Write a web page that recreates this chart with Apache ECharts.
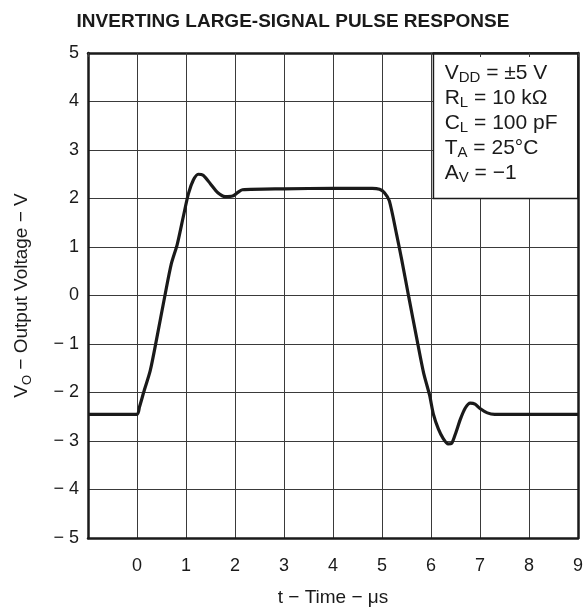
<!DOCTYPE html>
<html>
<head>
<meta charset="utf-8">
<script src="https://cdn.jsdelivr.net/npm/echarts@6/dist/echarts.min.js"></script>
<style>
  html, body { margin: 0; padding: 0; background: #fff; }
  #chart { width: 586px; height: 612px; }
</style>
</head>
<body>
<div id="chart"></div>
<script>
// time axis (µs) and output voltage (V)
const timeUs = [-1, 0, 0.05, 0.15, 0.27, 0.4, 0.57, 0.7, 0.82, 0.95, 1.05, 1.15, 1.25, 1.35, 1.5, 1.65, 1.8, 1.95, 2.05, 2.15,
  3, 4, 4.8, 4.95, 5.05, 5.15, 5.3, 5.4, 5.55, 5.71, 5.85, 5.97, 6.05, 6.15, 6.25, 6.35, 6.42, 6.5, 6.6, 6.7, 6.8, 6.9, 7.0, 7.15, 7.3, 9];
const voltage = [-2.45, -2.45, -2.3, -1.95, -1.55, -0.9, 0, 0.65, 1.05, 1.65, 2.1, 2.38, 2.5, 2.48, 2.3, 2.12, 2.04, 2.05, 2.12, 2.18,
  2.2, 2.21, 2.21, 2.19, 2.12, 1.95, 1.25, 0.75, -0.05, -0.89, -1.6, -2.05, -2.45, -2.75, -2.95, -3.06, -3.05, -2.85, -2.55, -2.32, -2.22, -2.24, -2.33, -2.42, -2.45, -2.45];

// test conditions box (corner values on the axes)
const boxFrom = [6.05, 2];
const boxTo = [9, 5];
const conditions = [
  '{n|V}{s|DD}{n| = ±5 V}',
  '{n|R}{s|L}{n| = 10 kΩ}',
  '{n|C}{s|L}{n| = 100 pF}',
  '{n|T}{s|A}{n| = 25°C}',
  '{n|A}{s|V}{n| = −1}'
];

const FONT = '"Liberation Sans", Arial, sans-serif';
const INK = '#1a1a1a';

let myChart = echarts.init(document.getElementById('chart'));

let points = timeUs.map((t, i) => [t, voltage[i]]);

let option = {
  animation: false,
  backgroundColor: '#fff',
  title: {
    text: 'INVERTING LARGE-SIGNAL PULSE RESPONSE',
    left: 'center',
    top: 7,
    textStyle: { fontFamily: FONT, fontSize: 19, fontWeight: 'bold', color: INK },
  },
  grid: { left: 88, right: 8, top: 53, bottom: 72, containLabel: false },
  xAxis: [{
    type: 'value',
    min: -1,
    max: 9,
    interval: 1,
    name: 't − Time − μs',
    nameLocation: 'middle',
    nameGap: 50,
    nameTextStyle: { fontFamily: FONT, fontSize: 19, color: INK },
    axisLine: { show: true, onZero: false, lineStyle: { color: INK, width: 2.5 } },
    axisTick: { show: false },
    axisLabel: {
      margin: 19,
      fontFamily: FONT, fontSize: 18, color: INK,
      formatter: (v) => (v === -1 ? '' : String(v)),
    },
    splitLine: { show: true, lineStyle: { color: '#3a3a3a', width: 1 } },
  }, {
    // top frame edge, drawn over the conditions box
    type: 'value',
    position: 'top',
    min: -1,
    max: 9,
    interval: 1,
    z: 5,
    axisLine: { show: true, onZero: false, lineStyle: { color: INK, width: 2.5 } },
    axisTick: { show: true, inside: true, length: 4, lineStyle: { color: '#3a3a3a' } },
    axisLabel: { show: false },
    splitLine: { show: false },
  }],
  yAxis: [{
    type: 'value',
    min: -5,
    max: 5,
    interval: 1,
    name: '{a|V}{s|O}{a| − Output Voltage − V}',
    nameLocation: 'middle',
    nameGap: 54,
    nameTextStyle: {
      fontFamily: FONT, fontSize: 19, color: INK,
      rich: {
        a: { fontFamily: FONT, fontSize: 19, color: INK, lineHeight: 24 },
        s: { fontFamily: FONT, fontSize: 13, color: INK, lineHeight: 13, verticalAlign: 'bottom' },
      },
    },
    axisLine: { show: true, onZero: false, lineStyle: { color: INK, width: 2.5 } },
    axisTick: { show: false },
    axisLabel: {
      margin: 9,
      fontFamily: FONT, fontSize: 18, color: INK,
      formatter: (v) => (v < 0 ? '− ' + Math.abs(v) : String(v)),
    },
    splitLine: { show: true, lineStyle: { color: '#3a3a3a', width: 1 } },
  }, {
    // right frame edge
    type: 'value',
    position: 'right',
    min: -5,
    max: 5,
    interval: 1,
    z: 5,
    axisLine: { show: true, onZero: false, lineStyle: { color: INK, width: 2.5 } },
    axisTick: { show: false },
    axisLabel: { show: false },
    splitLine: { show: false },
  }],
  series: [{
    type: 'line',
    xAxisIndex: 0,
    yAxisIndex: 0,
    data: points,
    smooth: 0.25,
    showSymbol: false,
    silent: true,
    lineStyle: { color: INK, width: 3.2 },
    markArea: {
      silent: true,
      itemStyle: { color: '#ffffff', opacity: 1, borderColor: INK, borderWidth: 1.5 },
      label: {
        show: true,
        position: 'insideTopLeft',
        distance: 0,
        padding: [8, 0, 0, 12],
        formatter: conditions.join('\n'),
        rich: {
          n: { fontFamily: FONT, fontSize: 21, color: INK, lineHeight: 25 },
          s: { fontFamily: FONT, fontSize: 15, color: INK, lineHeight: 14, verticalAlign: 'bottom' },
        },
      },
      emphasis: { disabled: true },
      data: [[{ coord: boxFrom }, { coord: boxTo }]],
    },
  }],
};

myChart.setOption(option);
</script>
</body>
</html>
